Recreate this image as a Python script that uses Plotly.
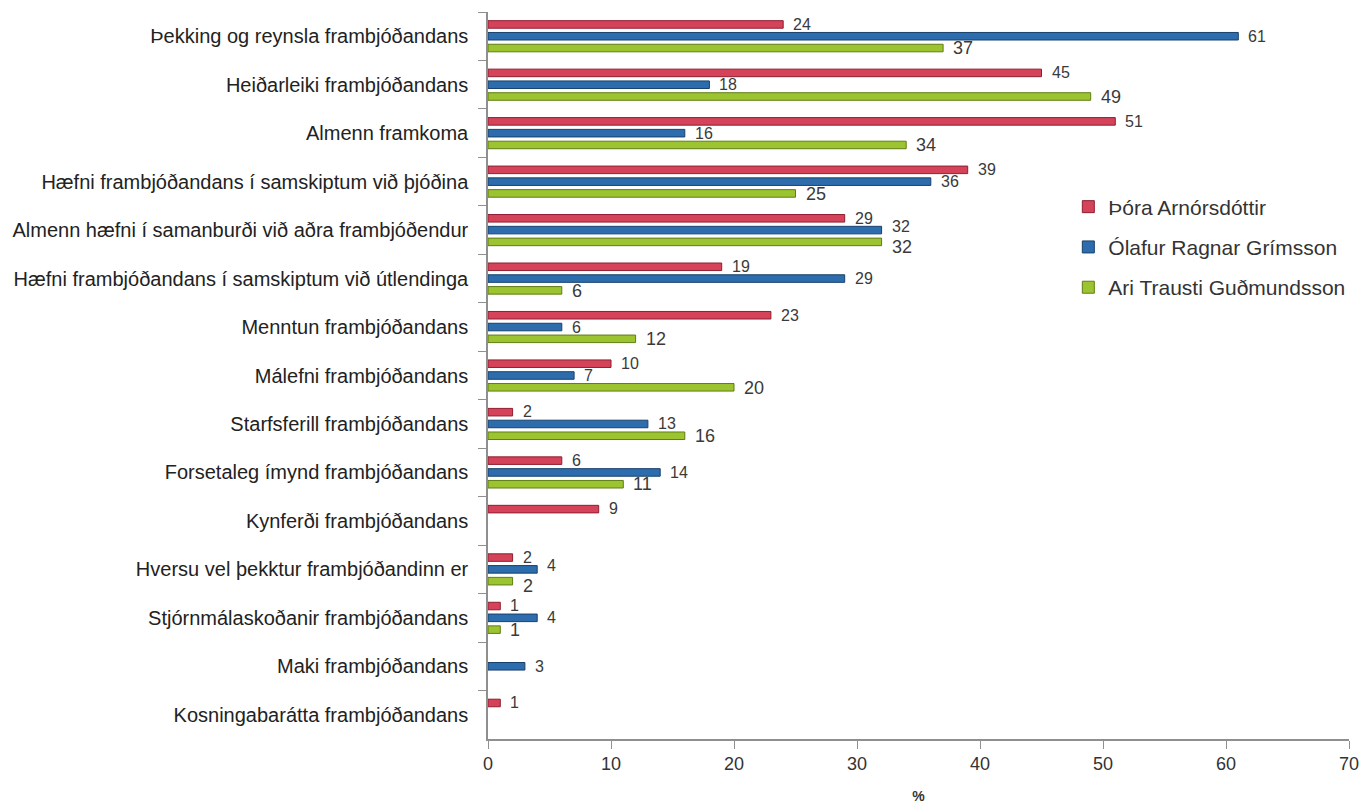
import plotly.graph_objects as go

categories = [
    "Þekking og reynsla frambjóðandans",
    "Heiðarleiki frambjóðandans",
    "Almenn framkoma",
    "Hæfni frambjóðandans í samskiptum við þjóðina",
    "Almenn hæfni í samanburði við aðra frambjóðendur",
    "Hæfni frambjóðandans í samskiptum við útlendinga",
    "Menntun frambjóðandans",
    "Málefni frambjóðandans",
    "Starfsferill frambjóðandans",
    "Forsetaleg ímynd frambjóðandans",
    "Kynferði frambjóðandans",
    "Hversu vel þekktur frambjóðandinn er",
    "Stjórnmálaskoðanir frambjóðandans",
    "Maki frambjóðandans",
    "Kosningabarátta frambjóðandans",
]

series_names = ["Þóra Arnórsdóttir", "Ólafur Ragnar Grímsson", "Ari Trausti Guðmundsson"]

thora = [24, 45, 51, 39, 29, 19, 23, 10, 2, 6, 9, 2, 1, None, 1]
olafur = [61, 18, 16, 36, 32, 29, 6, 7, 13, 14, None, 4, 4, 3, None]
ari = [37, 49, 34, 25, 32, 6, 12, 20, 16, 11, None, 2, 1, None, None]

x_ticks = [0, 10, 20, 30, 40, 50, 60, 70]

series_values = [thora, olafur, ari]
fill_colors = ["#d4435a", "#2d6dad", "#9cc430"]
line_colors = ["#8f1f30", "#17406b", "#5f7d14"]
label_sizes = [16, 16, 18]
label_yshift = [12, 0, -12]

FONT = "Liberation Sans, Arial, sans-serif"

fig = go.Figure()
for i, (name, vals) in enumerate(zip(series_names, series_values)):
    fig.add_trace(go.Bar(
        y=categories, x=vals, name=name, orientation="h",
        marker=dict(color=fill_colors[i], line=dict(color=line_colors[i], width=1)),
        legendgroup=name,
    ))

# value labels; nudge neighbouring labels apart when their values nearly coincide
for j, cat in enumerate(categories):
    vals = [s[j] for s in series_values]
    extra = [0, 0, 0]
    if vals[1] is not None and vals[2] is not None and abs(vals[1] - vals[2]) <= 2:
        extra[1] += 4
        extra[2] -= 5
    if vals[0] is not None and vals[1] is not None and abs(vals[0] - vals[1]) <= 1:
        extra[0] += 4
        extra[1] -= 3
    for i, v in enumerate(vals):
        if v is None:
            continue
        fig.add_annotation(
            x=v, y=cat, xref="x", yref="y", text=str(v), showarrow=False,
            xanchor="left", yanchor="middle", xshift=8, yshift=label_yshift[i] + extra[i],
            font=dict(family=FONT, size=label_sizes[i], color="#3a3a3a"),
        )

fig.update_layout(
    width=1367, height=805,
    margin=dict(l=478, r=26, t=4, b=74),
    paper_bgcolor="white", plot_bgcolor="white",
    barmode="group", bargap=0.27, bargroupgap=0.36,
    font=dict(family=FONT, size=18, color="#333333"),
    legend=dict(
        x=0.674, y=0.760, xanchor="left", yanchor="top",
        font=dict(family=FONT, size=21, color="#333333"),
        tracegroupgap=10, bgcolor="rgba(0,0,0,0)",
        itemwidth=30,
    ),
    showlegend=True,
)
fig.update_xaxes(
    range=[0, 70], tickvals=x_ticks, ticktext=[str(t) for t in x_ticks],
    showgrid=False, zeroline=False, showline=True, linecolor="#8f8f8f", linewidth=1.5,
    ticks="outside", ticklen=8, tickcolor="#8f8f8f",
    tickfont=dict(family=FONT, size=18, color="#333333"),
    title=dict(text="<b>%</b>", font=dict(family=FONT, size=14, color="#333333"), standoff=18),
)
fig.update_yaxes(
    autorange="reversed", type="category", tickson="boundaries",
    showgrid=False, zeroline=False, showline=True, linecolor="#8f8f8f", linewidth=1.5,
    ticks="outside", ticklen=8, tickcolor="#8f8f8f", ticklabelstandoff=14,
    tickfont=dict(family=FONT, size=20, color="#222222"),
)

fig.write_html("out.html")
